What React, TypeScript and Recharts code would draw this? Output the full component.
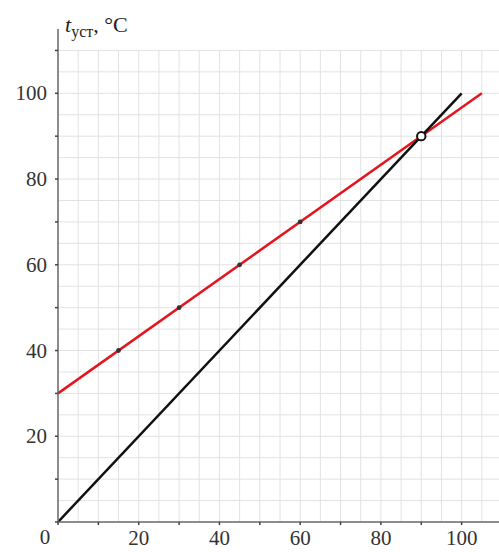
import {
  ComposedChart,
  Line,
  Scatter,
  XAxis,
  YAxis,
  ReferenceLine,
} from "recharts";

// grid every 5 units, ticks every 10, labels every 20
const gridSteps = [5, 10, 15, 20, 25, 30, 35, 40, 45, 50, 55, 60, 65, 70, 75, 80, 85, 90, 95, 100, 105, 110];
const axisTicks = [0, 10, 20, 30, 40, 50, 60, 70, 80, 90, 100, 110];
const labelTicks = [0, 20, 40, 60, 80, 100];

// t_уст against heater setting
const redLine = [
  { x: 0, y: 30 },
  { x: 105, y: 100 },
];
const blackLine = [
  { x: 0, y: 0 },
  { x: 100, y: 100 },
];
const measured = [
  { x: 15, y: 40 },
  { x: 30, y: 50 },
  { x: 45, y: 60 },
  { x: 60, y: 70 },
];
const crossing = [{ x: 90, y: 90 }];

const FONT = "'Liberation Serif', 'DejaVu Serif', serif";
const GRID = "#e2e2e2";
const AXIS = "#666";

function XTick(props: any) {
  const { x, y, payload } = props;
  const v = payload.value;
  if (!labelTicks.includes(v)) return null;
  const dx = v === 0 ? -13 : 0;
  const dy = v === 0 ? 17 : 18;
  return (
    <text x={x + dx} y={y + dy} textAnchor="middle" fontFamily={FONT} fontSize={21} fill="#333">
      {v}
    </text>
  );
}

function YTick(props: any) {
  const { x, y, payload } = props;
  const v = payload.value;
  if (v === 0 || !labelTicks.includes(v)) return null;
  return (
    <text x={x} y={y + 7} textAnchor="end" fontFamily={FONT} fontSize={21} fill="#333">
      {v}
    </text>
  );
}

function Dot(props: any) {
  const { cx, cy } = props;
  return <circle cx={cx} cy={cy} r={2.4} fill="#333" />;
}

function Ring(props: any) {
  const { cx, cy } = props;
  return <circle cx={cx} cy={cy} r={4.2} fill="#fff" stroke="#111" strokeWidth={2} />;
}

export default function App() {
  return (
    <div
      style={{
        position: "absolute",
        left: 0,
        top: 0,
        width: 499,
        height: 552,
        overflow: "hidden",
        background: "#fff",
      }}
    >
      <ComposedChart width={502} height={552} margin={{ top: 29, right: 0, bottom: 0, left: 0 }}>
        {gridSteps.map((v) => (
          <ReferenceLine
            key={"h" + v}
            segment={[{ x: 0, y: v }, { x: 110, y: v }]}
            stroke={GRID}
            strokeWidth={1}
          />
        ))}
        {gridSteps.map((v) => (
          <ReferenceLine
            key={"v" + v}
            segment={[{ x: v, y: 0 }, { x: v, y: 110 }]}
            stroke={GRID}
            strokeWidth={1}
          />
        ))}
        <XAxis
          type="number"
          dataKey="x"
          domain={[0, 110]}
          ticks={axisTicks}
          allowDataOverflow
          height={30}
          axisLine={{ stroke: AXIS, strokeWidth: 1.5 }}
          tickLine={{ stroke: "#444", strokeWidth: 1.5 }}
          tickSize={3}
          tick={<XTick />}
          interval={0}
        />
        <YAxis
          type="number"
          dataKey="y"
          domain={[0, 115]}
          ticks={axisTicks}
          allowDataOverflow
          width={58}
          axisLine={{ stroke: AXIS, strokeWidth: 1.5 }}
          tickLine={{ stroke: "#444", strokeWidth: 1.5 }}
          tickSize={3}
          tickMargin={8}
          tick={<YTick />}
          interval={0}
        />
        <Line
          data={redLine}
          dataKey="y"
          type="linear"
          stroke="#e3161f"
          strokeWidth={2.5}
          dot={false}
          activeDot={false}
          isAnimationActive={false}
        />
        <Line
          data={blackLine}
          dataKey="y"
          type="linear"
          stroke="#111"
          strokeWidth={2.5}
          dot={false}
          activeDot={false}
          isAnimationActive={false}
        />
        <Scatter data={measured} dataKey="y" shape={<Dot />} isAnimationActive={false} />
        <Scatter data={crossing} dataKey="y" shape={<Ring />} isAnimationActive={false} />
      </ComposedChart>
      <div
        style={{
          position: "absolute",
          left: 65,
          top: 12,
          fontFamily: FONT,
          fontSize: 22,
          color: "#222",
          whiteSpace: "nowrap",
        }}
      >
        <i>t</i>
        <sub style={{ fontSize: 16 }}>уст</sub>, °C
      </div>
    </div>
  );
}
